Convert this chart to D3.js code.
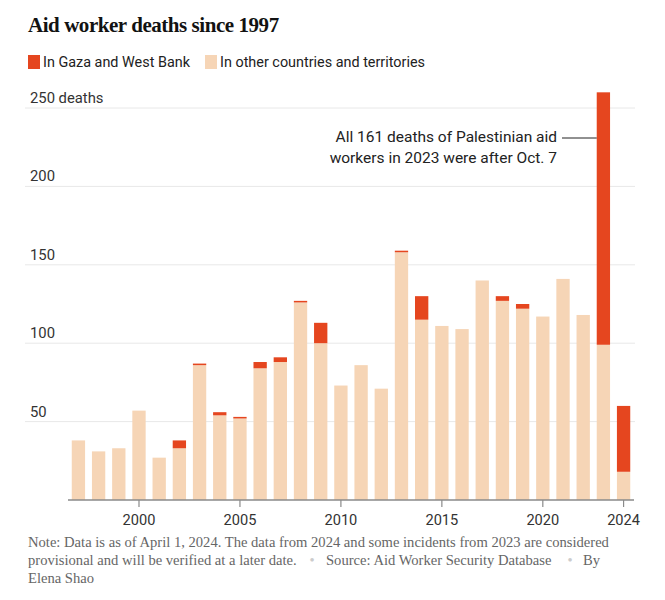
<!DOCTYPE html>
<html><head><meta charset="utf-8">
<script src="https://cdn.jsdelivr.net/npm/d3@7"></script>
<style>
body{margin:0;background:#fff;}
svg{display:block;}
</style></head>
<body>
<svg id="c" width="665" height="600"></svg>
<script>
const years = d3.range(1997, 2025);
const other = [38,31,33,57,27,33,86,54,52,84,88,126,100,73,86,71,158,115,111,109,140,127,122,117,141,118,99,18];
const gaza  = [0,0,0,0,0,5,1,2,1,4,3,1,13,0,0,0,1,15,0,0,0,3,3,0,0,0,161,42];
const yTicks = [50,100,150,200,250];
const xTicks = [2000,2005,2010,2015,2020,2024];
const colors = {gaza:"#e5461f", other:"#f6d5b6"};
const seriesNames = ["In Gaza and West Bank","In other countries and territories"];

const svg = d3.select("#c");
const x = d3.scaleBand().domain(years).range([68,634]).paddingInner(0.34).paddingOuter(0.186);
const y = d3.scaleLinear().domain([0,250]).range([500,108]);
const sans = "Roboto, Liberation Sans, sans-serif";

// title
svg.append("text").attr("x",28).attr("y",32)
  .attr("font-family","Liberation Serif, serif").attr("font-weight","bold")
  .attr("font-size",21).attr("fill","#121212").attr("letter-spacing","-0.45")
  .text("Aid worker deaths since 1997");

// legend
const lg = svg.append("g").attr("font-family",sans).attr("font-size",14.4).attr("fill","#222");
lg.append("rect").attr("x",28).attr("y",55).attr("width",12).attr("height",14).attr("fill",colors.gaza);
lg.append("text").attr("x",43).attr("y",67).text(seriesNames[0]);
lg.append("rect").attr("x",205).attr("y",55).attr("width",12).attr("height",14).attr("fill",colors.other);
lg.append("text").attr("x",220).attr("y",67).text(seriesNames[1]);

// gridlines
const g = svg.append("g");
g.selectAll("line.grid").data(yTicks).join("line")
  .attr("x1",25).attr("x2",635).attr("y1",d=>y(d)).attr("y2",d=>y(d))
  .attr("stroke","#e8e8e8").attr("stroke-width",1);
g.selectAll("text.yl").data(yTicks).join("text")
  .attr("x",30).attr("y",d=>y(d)-5)
  .attr("font-family",sans).attr("font-size",14.8).attr("fill","#333")
  .text(d=>d===250? d+" deaths": d);

// bars
const data = years.map((yr,i)=>({yr, other:other[i], gaza:gaza[i]}));
const bars = svg.append("g");
bars.selectAll("rect.o").data(data).join("rect")
  .attr("x",d=>x(d.yr)).attr("width",x.bandwidth())
  .attr("y",d=>y(d.other)).attr("height",d=>y(0)-y(d.other))
  .attr("fill",colors.other);
bars.selectAll("rect.g").data(data.filter(d=>d.gaza>0)).join("rect")
  .attr("x",d=>x(d.yr)).attr("width",x.bandwidth())
  .attr("y",d=>y(d.other+d.gaza)).attr("height",d=>y(d.other)-y(d.other+d.gaza))
  .attr("fill",colors.gaza);

// x axis
const xa = svg.append("g").attr("transform","translate(0,500)");
xa.append("line").attr("x1",68).attr("x2",634).attr("stroke","#8a8a8a").attr("stroke-width",1.5);
xa.selectAll("line.t").data(xTicks).join("line")
  .attr("x1",d=>x(d)+x.bandwidth()/2).attr("x2",d=>x(d)+x.bandwidth()/2)
  .attr("y1",0).attr("y2",7).attr("stroke","#8a8a8a").attr("stroke-width",1.2);
xa.selectAll("text").data(xTicks).join("text")
  .attr("x",d=>x(d)+x.bandwidth()/2).attr("y",25).attr("text-anchor","middle")
  .attr("font-family",sans).attr("font-size",14.6).attr("fill","#333")
  .text(d=>d);

// annotation
const ann = svg.append("g").attr("font-family",sans).attr("font-size",15.5).attr("fill","#222");
ann.append("text").attr("x",557).attr("y",142).attr("text-anchor","end").text("All 161 deaths of Palestinian aid");
ann.append("text").attr("x",557).attr("y",163).attr("text-anchor","end").text("workers in 2023 were after Oct. 7");
ann.append("line").attr("x1",562).attr("x2",x(2023)).attr("y1",138).attr("y2",138).attr("stroke","#222").attr("stroke-width",1);

// footnote
const fn = svg.append("g").attr("font-family","Liberation Serif, serif").attr("font-size",14.6).attr("fill","#666");
fn.append("text").attr("x",28).attr("y",547).text("Note: Data is as of April 1, 2024. The data from 2024 and some incidents from 2023 are considered");
const l2 = fn.append("g");
l2.append("text").attr("x",28).attr("y",565).text("provisional and will be verified at a later date.");
l2.append("text").attr("x",312).attr("y",565).attr("text-anchor","middle").attr("fill","#ccc").text("•");
l2.append("text").attr("x",326).attr("y",565).text("Source: Aid Worker Security Database");
l2.append("text").attr("x",570).attr("y",565).attr("text-anchor","middle").attr("fill","#ccc").text("•");
l2.append("text").attr("x",583).attr("y",565).text("By");
fn.append("text").attr("x",28).attr("y",583).text("Elena Shao");
</script>
</body></html>
